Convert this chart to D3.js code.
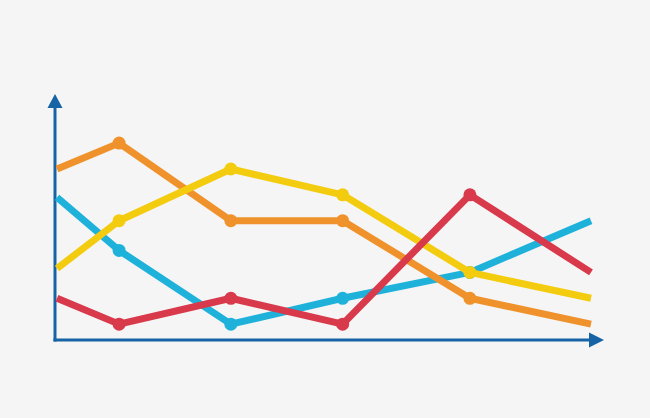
<!DOCTYPE html>
<html>
<head>
<meta charset="utf-8">
<script src="https://cdn.jsdelivr.net/npm/d3@7/dist/d3.min.js"></script>
<style>
html,body{margin:0;padding:0;background:#f5f5f5;}
svg{display:block;}
</style>
</head>
<body>
<script>
const xValues = [0, 1, 2.8, 4.6, 6.65, 8.6];
const blue   = [5.9, 3.85, 1, 2, 3, 5];
const red    = [2, 1, 2, 1, 6, 3];
const orange = [7, 8, 5, 5, 2, 1];
const yellow = [3.15, 5, 7, 6, 3, 2];
const seriesNames = ["blue", "red", "orange", "yellow"];
const seriesColors = ["#1eb2db", "#d8394b", "#f0922b", "#f4cc0f"];
const seriesData = [blue, red, orange, yellow];

const W = 650, H = 418;
const svg = d3.select("body").append("svg").attr("width", W).attr("height", H);
svg.append("rect").attr("width", W).attr("height", H).attr("fill", "#f5f5f5");

const x = d3.scaleLinear().domain([0, 8.6]).range([57, 591]);
const y = d3.scaleLinear().domain([0, 10]).range([350, 91.4]);

const axisColor = "#1663a6";
// axes
svg.append("line").attr("x1", 55).attr("x2", 55).attr("y1", 341.5).attr("y2", 104)
  .attr("stroke", axisColor).attr("stroke-width", 3);
svg.append("line").attr("x1", 53.5).attr("x2", 592).attr("y1", 340).attr("y2", 340)
  .attr("stroke", axisColor).attr("stroke-width", 3);
svg.append("path").attr("d", "M55,94 L62.5,108 L47.5,108 Z").attr("fill", axisColor);
svg.append("path").attr("d", "M604,340 L589,332.5 L589,347.5 Z").attr("fill", axisColor);

const line = d3.line().x((d, i) => x(xValues[i])).y(d => y(d));

const order = [0, 2, 3, 1];
order.forEach(k => {
  const g = svg.append("g");
  g.append("path").datum(seriesData[k]).attr("d", line)
    .attr("fill", "none").attr("stroke", seriesColors[k]).attr("stroke-width", 7)
    .attr("stroke-linejoin", "round");
  g.selectAll("circle").data(seriesData[k].slice(1, -1)).join("circle")
    .attr("cx", (d, i) => x(xValues[i + 1])).attr("cy", d => y(d)).attr("r", 6.5)
    .attr("fill", seriesColors[k]);
});
</script>
</body>
</html>
